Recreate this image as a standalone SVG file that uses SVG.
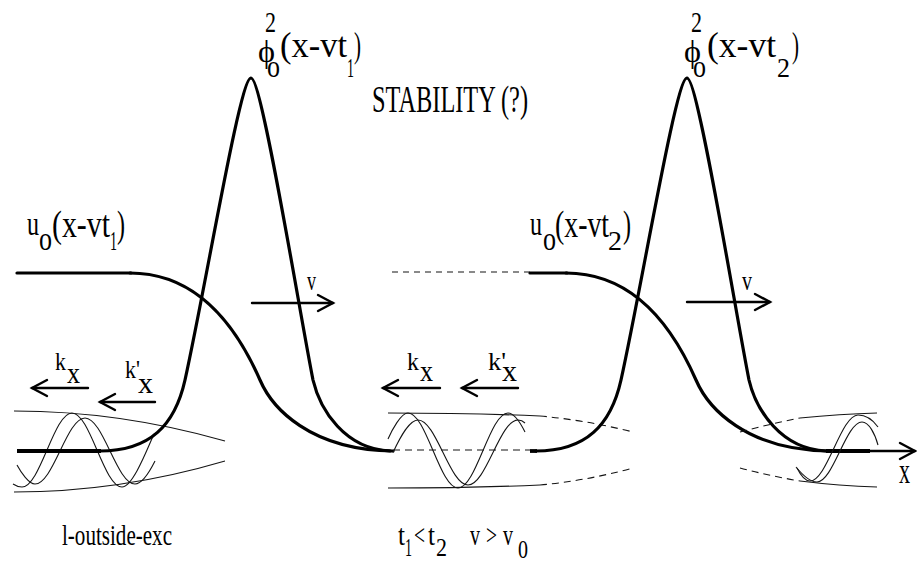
<svg xmlns="http://www.w3.org/2000/svg" width="917" height="581" viewBox="0 0 917 581">
<defs>
<style>
.thick{fill:none;stroke:#000;stroke-width:3.2;stroke-linecap:round;stroke-linejoin:round}
.base{fill:none;stroke:#000;stroke-width:3.8}
.thin{fill:none;stroke:#151515;stroke-width:1.1}
.dash{fill:none;stroke:#151515;stroke-width:1.1;stroke-dasharray:7 5}
.dashs{fill:none;stroke:#151515;stroke-width:1.1;stroke-dasharray:6 5}
.arr{fill:none;stroke:#000;stroke-width:2.4;stroke-linecap:round}
text{font-family:"Liberation Serif","Times New Roman",serif;fill:#000}
</style>
<marker id="ah" markerUnits="userSpaceOnUse" markerWidth="20" markerHeight="20" viewBox="0 0 20 20" refX="17" refY="9" orient="auto" overflow="visible">
<path d="M2,1 L17,9 L2,17" fill="none" stroke="#000" stroke-width="2.4" stroke-linecap="round"/>
</marker>
<path id="phi" d="M100,451 C150,451 175,425 185,380 C207,280 240,78 251,78 C262,78 300,315 313,380 C320,410 345,449 390,451"/>
<path id="u" d="M130,273 C200,273 238,330 260,380 C272,408 310,450 393,451"/>
</defs>
<rect width="917" height="581" fill="#fff"/>

<g id="snapshot-t1">
<path class="thin" d="M14,411 Q120,411 225,441"/>
<path class="thin" d="M14,492 Q120,492 225,461"/>
<path class="thin" d="M13,484 C16,486 19,487 22,487 C40.2,487 53.8,413 72,413 C90.2,413 103.8,487 122,487 C133,487 148,447 154,434"/>
<path class="thin" d="M17,465 C21,472.5 29,484 35,484 C53.2,484 66.8,418 85,418 C103.2,418 116.8,484 135,484 C142,484 150,471 155,461"/>
<path class="base" d="M17,451 L101,451"/>
<use href="#phi" class="thick"/>
<path class="thick" d="M17,273 L131,273"/>
<use href="#u" class="thick"/>
</g>

<g id="snapshot-t2">
<path class="thin" d="M388,413 Q470,413 540,416"/>
<path class="dash" d="M540,416 Q585,420 633,432"/>
<path class="thin" d="M388,488 Q470,488 540,485"/>
<path class="dash" d="M540,485 Q585,481 633,468"/>
<path class="dash" d="M393,450 L530,450"/>
<path class="thin" d="M388,439 C392,430 401,413 408,413 C426.2,413 439.8,488 458,488 C476.2,488 489.8,413 508,413 C514,413 520,422 525,432"/>
<path class="thin" d="M393,452.5 C401,435.5 409.5,420 418,420 C436.2,420 449.8,485 468,485 C486.2,485 499.8,420 518,420 C521,420 523,421 525,423"/>
<path class="dashs" d="M392,272 L530,272"/>
<path class="thick" d="M530,273 L567,273"/>
<use href="#u" class="thick" transform="translate(436,0)"/>
<path class="base" d="M530,451 L537,451"/>
<use href="#phi" class="thick" transform="translate(436,0)"/>
<path class="base" d="M826,451 L870,451"/>
<path class="dash" d="M740,432 Q770,424 800,418"/>
<path class="thin" d="M800,418 Q840,414 877,413"/>
<path class="dash" d="M740,468 Q770,476 800,481"/>
<path class="thin" d="M800,481 Q840,486 877,487"/>
<path class="thin" d="M797,468 C801,476 805,481 810,481 C827,481 841,415 858,415 C866,415 873,420 878,427"/>
<path class="thin" d="M796,467 C805,478 811,482 817,482 C833,482 846,422 862,422 C869,422 875,434 878,445"/>
</g>

<g id="connectors">
<path class="arr" d="M252,303 H333" marker-end="url(#ah)"/>
<path class="arr" d="M687,302 H770" marker-end="url(#ah)"/>
<path class="arr" d="M88,388 H32" marker-end="url(#ah)"/>
<path class="arr" d="M155,402 H100" marker-end="url(#ah)"/>
<path class="arr" d="M440,388 H383" marker-end="url(#ah)"/>
<path class="arr" d="M518,388 H462" marker-end="url(#ah)"/>
<path class="arr" d="M868,451 H915" marker-end="url(#ah)"/>
</g>

<g id="labels" font-family="Liberation Serif, Times New Roman, serif">
<text id="label-phi1"><tspan x="258" y="62" font-size="31" textLength="17" lengthAdjust="spacingAndGlyphs">ϕ</tspan><tspan x="265" y="32" font-size="29" textLength="11" lengthAdjust="spacingAndGlyphs">2</tspan><tspan x="267" y="77" font-size="32" textLength="13" lengthAdjust="spacingAndGlyphs">o</tspan><tspan x="280" y="57" font-size="35" textLength="67" lengthAdjust="spacingAndGlyphs">(x-vt</tspan><tspan x="347" y="77" font-size="28" textLength="7" lengthAdjust="spacingAndGlyphs">1</tspan><tspan x="354" y="57" font-size="35" textLength="7" lengthAdjust="spacingAndGlyphs">)</tspan></text>
<text id="label-phi2"><tspan x="684" y="62" font-size="31" textLength="17" lengthAdjust="spacingAndGlyphs">ϕ</tspan><tspan x="691" y="32" font-size="29" textLength="11" lengthAdjust="spacingAndGlyphs">2</tspan><tspan x="693" y="77" font-size="32" textLength="13" lengthAdjust="spacingAndGlyphs">o</tspan><tspan x="707" y="57" font-size="35" textLength="69" lengthAdjust="spacingAndGlyphs">(x-vt</tspan><tspan x="777" y="77" font-size="28" textLength="13" lengthAdjust="spacingAndGlyphs">2</tspan><tspan x="792" y="57" font-size="35" textLength="7" lengthAdjust="spacingAndGlyphs">)</tspan></text>
<text id="label-stability" x="372" y="112" font-size="37" textLength="156" lengthAdjust="spacingAndGlyphs">STABILITY (?)</text>
<text id="label-u1"><tspan x="27" y="235" font-size="34" textLength="12" lengthAdjust="spacingAndGlyphs">u</tspan><tspan x="39" y="250" font-size="33" textLength="13" lengthAdjust="spacingAndGlyphs">o</tspan><tspan x="52" y="237" font-size="38" textLength="58" lengthAdjust="spacingAndGlyphs">(x-vt</tspan><tspan x="110" y="250" font-size="28" textLength="7" lengthAdjust="spacingAndGlyphs">1</tspan><tspan x="117" y="237" font-size="38" textLength="8" lengthAdjust="spacingAndGlyphs">)</tspan></text>
<text id="label-u2"><tspan x="530" y="235" font-size="34" textLength="12" lengthAdjust="spacingAndGlyphs">u</tspan><tspan x="543" y="250" font-size="33" textLength="13" lengthAdjust="spacingAndGlyphs">o</tspan><tspan x="555" y="237" font-size="38" textLength="54" lengthAdjust="spacingAndGlyphs">(x-vt</tspan><tspan x="608" y="250" font-size="28" textLength="14" lengthAdjust="spacingAndGlyphs">2</tspan><tspan x="623" y="237" font-size="38" textLength="8" lengthAdjust="spacingAndGlyphs">)</tspan></text>
<text id="label-v1" x="307" y="290" font-size="27" textLength="9" lengthAdjust="spacingAndGlyphs">v</text>
<text id="label-v2" x="742" y="290" font-size="27" textLength="10" lengthAdjust="spacingAndGlyphs">v</text>
<text id="label-kx1"><tspan x="55" y="370" font-size="25" textLength="11" lengthAdjust="spacingAndGlyphs">k</tspan><tspan x="67" y="383" font-size="30" textLength="13" lengthAdjust="spacingAndGlyphs">x</tspan></text>
<text id="label-kpx1"><tspan x="125" y="378" font-size="25" textLength="15" lengthAdjust="spacingAndGlyphs">k'</tspan><tspan x="138" y="393" font-size="30" textLength="15" lengthAdjust="spacingAndGlyphs">x</tspan></text>
<text id="label-kx2"><tspan x="407" y="370" font-size="25" textLength="12" lengthAdjust="spacingAndGlyphs">k</tspan><tspan x="420" y="381" font-size="30" textLength="13" lengthAdjust="spacingAndGlyphs">x</tspan></text>
<text id="label-kpx2"><tspan x="488" y="370" font-size="25" textLength="18" lengthAdjust="spacingAndGlyphs">k'</tspan><tspan x="502" y="381" font-size="30" textLength="15" lengthAdjust="spacingAndGlyphs">x</tspan></text>
<text id="label-axis" x="899" y="483" font-size="36" textLength="11" lengthAdjust="spacingAndGlyphs">x</text>
<text id="label-caption" x="62" y="545" font-size="30" textLength="110" lengthAdjust="spacingAndGlyphs">l-outside-exc</text>
<text id="label-cond"><tspan x="398" y="545" font-size="30" textLength="7" lengthAdjust="spacingAndGlyphs">t</tspan><tspan x="405" y="556" font-size="26" textLength="7" lengthAdjust="spacingAndGlyphs">1</tspan><tspan x="414" y="545" font-size="30" textLength="11" lengthAdjust="spacingAndGlyphs">&lt;</tspan><tspan x="428" y="545" font-size="30" textLength="7" lengthAdjust="spacingAndGlyphs">t</tspan><tspan x="436" y="556" font-size="26" textLength="11" lengthAdjust="spacingAndGlyphs">2</tspan><tspan x="470" y="545" font-size="30" textLength="10" lengthAdjust="spacingAndGlyphs">v</tspan><tspan x="486" y="545" font-size="30" textLength="11" lengthAdjust="spacingAndGlyphs">&gt;</tspan><tspan x="503" y="545" font-size="30" textLength="10" lengthAdjust="spacingAndGlyphs">v</tspan><tspan x="518" y="558" font-size="26" textLength="10" lengthAdjust="spacingAndGlyphs">0</tspan></text>
</g>
</svg>
